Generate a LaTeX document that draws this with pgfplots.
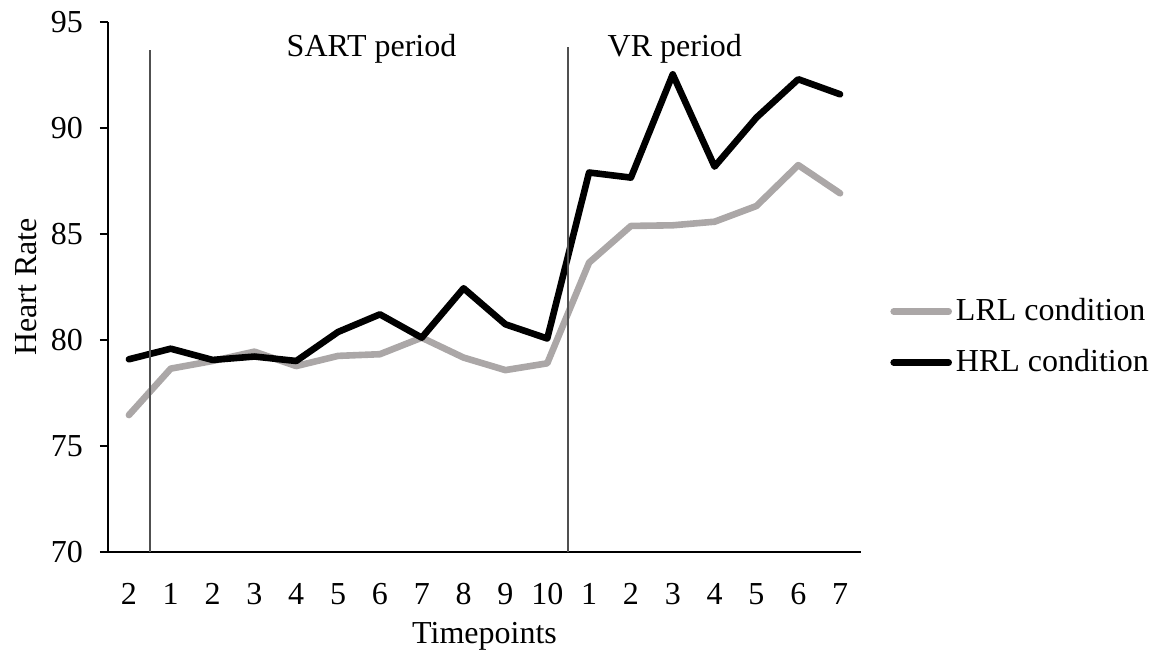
\documentclass[border=0pt]{standalone}
\usepackage{fontspec}
\setmainfont{Liberation Serif}
\usepackage{pgfplots}
\pgfplotsset{compat=1.18}
\definecolor{lrlgray}{RGB}{171,167,167}
\definecolor{vline}{RGB}{80,80,80}
\begin{document}
\begin{tikzpicture}
\fontsize{16}{19}\selectfont
\path[use as bounding box] (-54pt,-50.5pt) rectangle (524pt,276pt);
\begin{axis}[
  at={(0,0)}, anchor=south west,
  scale only axis,
  width=376.5pt, height=265pt,
  xmin=-0.5, xmax=17.5,
  ymin=70, ymax=95,
  ytick={70,75,80,85,90,95},
  xtick={0,...,17},
  xticklabels={2,1,2,3,4,5,6,7,8,9,10,1,2,3,4,5,6,7},
  axis x line*=bottom,
  axis y line*=left,
  axis line style={black, line width=0.8pt, -},
  x axis line style={-},
  y axis line style={-},
  xtick style={draw=none},
  ytick style={black, line width=0.8pt},
  tick align=outside,
  major tick length=4pt,
  /pgf/number format/assume math mode=true,
  tick label style={font=\fontsize{16}{19}\selectfont},
  label style={font=\fontsize{16}{19}\selectfont},
  xlabel={Timepoints},
  ylabel={Heart Rate},
  xlabel style={yshift=2pt},
  ylabel style={yshift=-4pt},
  yticklabel style={xshift=-3pt},
  xticklabel style={yshift=-6pt},
  clip=false,
  legend style={at={(1.0385,0.4057)}, anchor=west, draw=none, fill=none,
    inner sep=0pt, row sep=8pt, font=\fontsize{16}{19}\selectfont,
    /tikz/every even column/.append style={column sep=0pt}},
  legend cell align=left,
  legend image code/.code={\draw[#1] (0pt,0pt) -- (27.5pt,0pt);},
]
\addplot[lrlgray, line width=3.3pt, line join=round, line cap=round] coordinates {
(0,76.46) (1,78.65) (2,79.01) (3,79.45) (4,78.77) (5,79.25) (6,79.33) (7,80.11) (8,79.17) (9,78.58) (10,78.90)
(11,83.65) (12,85.38) (13,85.41) (14,85.58) (15,86.32) (16,88.25) (17,86.92)};
\addlegendentry{LRL condition}
\addplot[black, line width=3.3pt, line join=round, line cap=round] coordinates {
(0,79.09) (1,79.59) (2,79.06) (3,79.22) (4,79.01) (5,80.38) (6,81.21) (7,80.11) (8,82.44) (9,80.74) (10,80.07)
(11,87.90) (12,87.66) (13,92.53) (14,88.18) (15,90.49) (16,92.30) (17,91.59)};
\addlegendentry{HRL condition}
\draw[vline, line width=0.7pt] (axis cs:0.5,70) -- (axis cs:0.5,93.7);
\draw[vline, line width=0.7pt] (axis cs:10.5,70) -- (axis cs:10.5,93.8);
\node[anchor=base] at (axis cs:5.8,93.36) {SART period};
\node[anchor=base] at (axis cs:13.05,93.36) {VR period};
\end{axis}
\end{tikzpicture}
\end{document}
